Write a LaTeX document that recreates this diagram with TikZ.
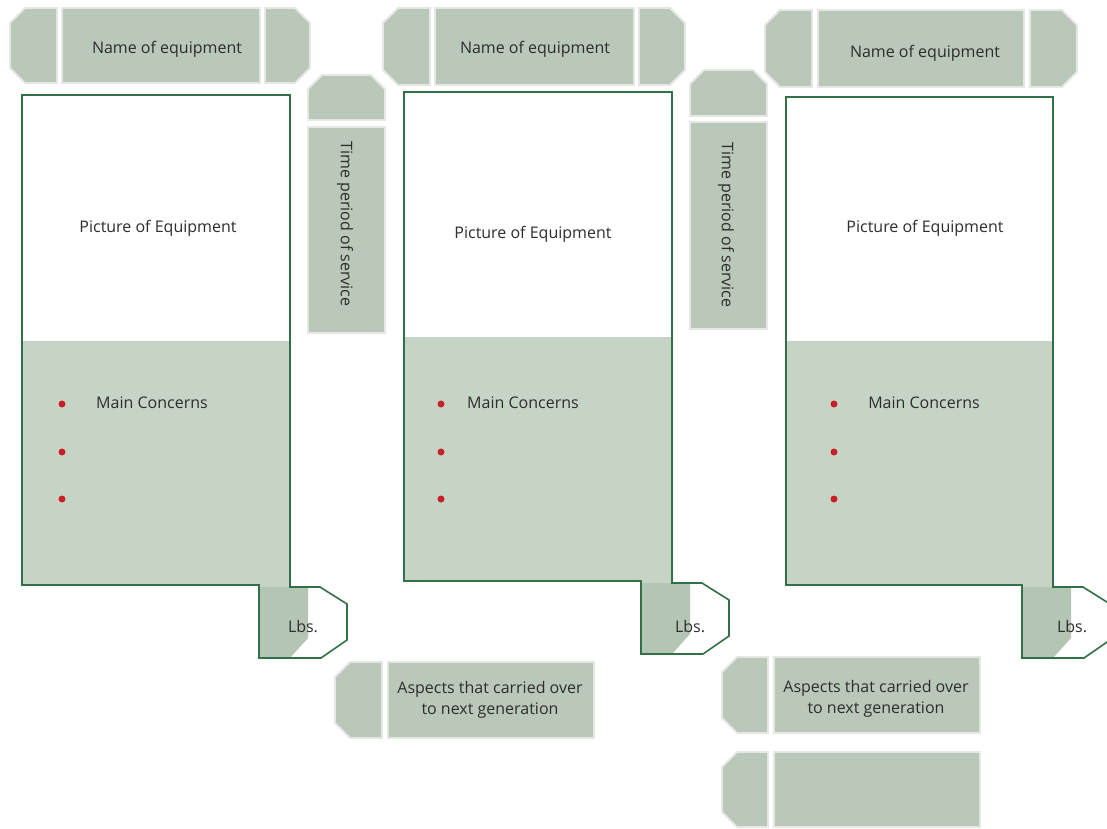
\documentclass[tikz,border=0pt]{standalone}
\usepackage{fontspec}
\setmainfont{Open Sans}
\definecolor{tabgreen}{RGB}{185,200,185}
\definecolor{boxgreen}{RGB}{198,212,198}
\definecolor{shadegreen}{RGB}{180,197,180}
\definecolor{edgegreen}{RGB}{50,112,72}
\definecolor{tabedge}{RGB}{230,232,230}
\definecolor{dotred}{RGB}{200,32,40}
\definecolor{ink}{RGB}{45,45,45}

% tab pieces: x0, y0, x1, y1 (y grows downwards)
\newcommand\tabL[4]{\path[tabpiece] (#1+15,#2) -- (#3,#2) -- (#3,#4) -- (#1+15,#4) -- (#1,#4-15) -- (#1,#2+15) -- cycle;}
\newcommand\tabR[4]{\path[tabpiece] (#1,#2) -- (#3-15,#2) -- (#3,#2+15) -- (#3,#4-15) -- (#3-15,#4) -- (#1,#4) -- cycle;}
\newcommand\tabM[4]{\path[tabpiece] (#1,#2) rectangle (#3,#4);}
\newcommand\tabCap[4]{\path[tabpiece] (#1,#4) -- (#1,#2+14) -- (#1+14,#2) -- (#3-14,#2) -- (#3,#2+14) -- (#3,#4) -- cycle;}
% equipment card: left, top, right, bottom, split
\newcommand\card[5]{%
  \fill[boxgreen] (#1,#5) rectangle (#3,#4);
  \fill[boxgreen] (#3-31,#4-1) rectangle (#3,#4+3);
  \fill[shadegreen] (#3-31,#4+2) -- (#3+18,#4+2) -- (#3+18,#4+53) -- (#3,#4+73) -- (#3-31,#4+73) -- cycle;
  \draw[cardedge] (#1,#2) -- (#3,#2) -- (#3,#4+2) -- (#3+30,#4+2) -- (#3+57,#4+19)
     -- (#3+57,#4+55) -- (#3+31,#4+73) -- (#3-31,#4+73) -- (#3-31,#4) -- (#1,#4) -- cycle;}

\tikzset{
  tabpiece/.style={fill=tabgreen, draw=tabedge, line width=1.8pt, line join=miter},
  cardedge/.style={draw=edgegreen, line width=1.6pt, line join=miter},
  lbl/.style={text=ink, font=\fontsize{16}{21}\selectfont, inner sep=0pt, align=center},
  dot/.style={circle, fill=dotred, inner sep=0pt, minimum size=7pt}
}

\begin{document}
\begin{tikzpicture}[x=1pt, y=-1pt]
\useasboundingbox (0,0) rectangle (1107,828);
\fill[white] (0,0) rectangle (1107,828);

% ---- name tabs ----
\tabL{10}{8}{57}{83}\tabM{62}{8}{260}{83}\tabR{265}{8}{310}{83}
\node[lbl] (name1) at (167,49) {Name of equipment};
\tabL{383}{8}{430}{85}\tabM{435}{8}{634}{85}\tabR{639}{8}{685}{85}
\node[lbl] (name2) at (535,49) {Name of equipment};
\tabL{765}{10}{812}{87}\tabM{818}{10}{1024}{87}\tabR{1030}{10}{1077}{87}
\node[lbl] (name3) at (925,53) {Name of equipment};

% ---- service period tabs ----
\tabCap{308}{75}{385}{120}\tabM{308}{127}{385}{333}
\node[lbl, rotate=-90] (time1) at (345,224) {Time period of service};
\tabCap{690}{70}{767}{116}\tabM{690}{122}{767}{329}
\node[lbl, rotate=-90] (time2) at (726,225) {Time period of service};

% ---- equipment cards ----
\card{22}{95}{290}{585}{341}
\card{404}{92}{672}{581}{337}
\begin{scope}
\clip (0,0) rectangle (1107,828);
\card{786}{97}{1053}{585}{341}
\end{scope}

\node[lbl] (pic1) at (158,228) {Picture of Equipment};
\node[lbl] (pic2) at (533,234) {Picture of Equipment};
\node[lbl] (pic3) at (925,228) {Picture of Equipment};

\node[lbl] (mc1) at (152,403) {Main Concerns};
\node[lbl] (mc2) at (523,403) {Main Concerns};
\node[lbl] (mc3) at (924,403) {Main Concerns};

\foreach \x/\p in {62/a,441/b,834/c}{
  \node[dot] (\p1) at (\x,404) {};
  \node[dot] (\p2) at (\x,452) {};
  \node[dot] (\p3) at (\x,499) {};
}

\node[lbl] (lbs1) at (303,627) {Lbs.};
\node[lbl] (lbs2) at (690,627) {Lbs.};
\node[lbl] (lbs3) at (1072,627) {Lbs.};

% ---- carried-over tabs ----
\tabL{335}{662}{382}{738}\tabM{388}{662}{594}{738}
\node[lbl] (asp1) at (490,700) {Aspects that carried over\\to next generation};
\tabL{722}{657}{768}{733}\tabM{774}{657}{980}{733}
\node[lbl] (asp2) at (876,699) {Aspects that carried over\\to next generation};
\tabL{722}{752}{768}{827}\tabM{774}{752}{980}{827}
\end{tikzpicture}
\end{document}
